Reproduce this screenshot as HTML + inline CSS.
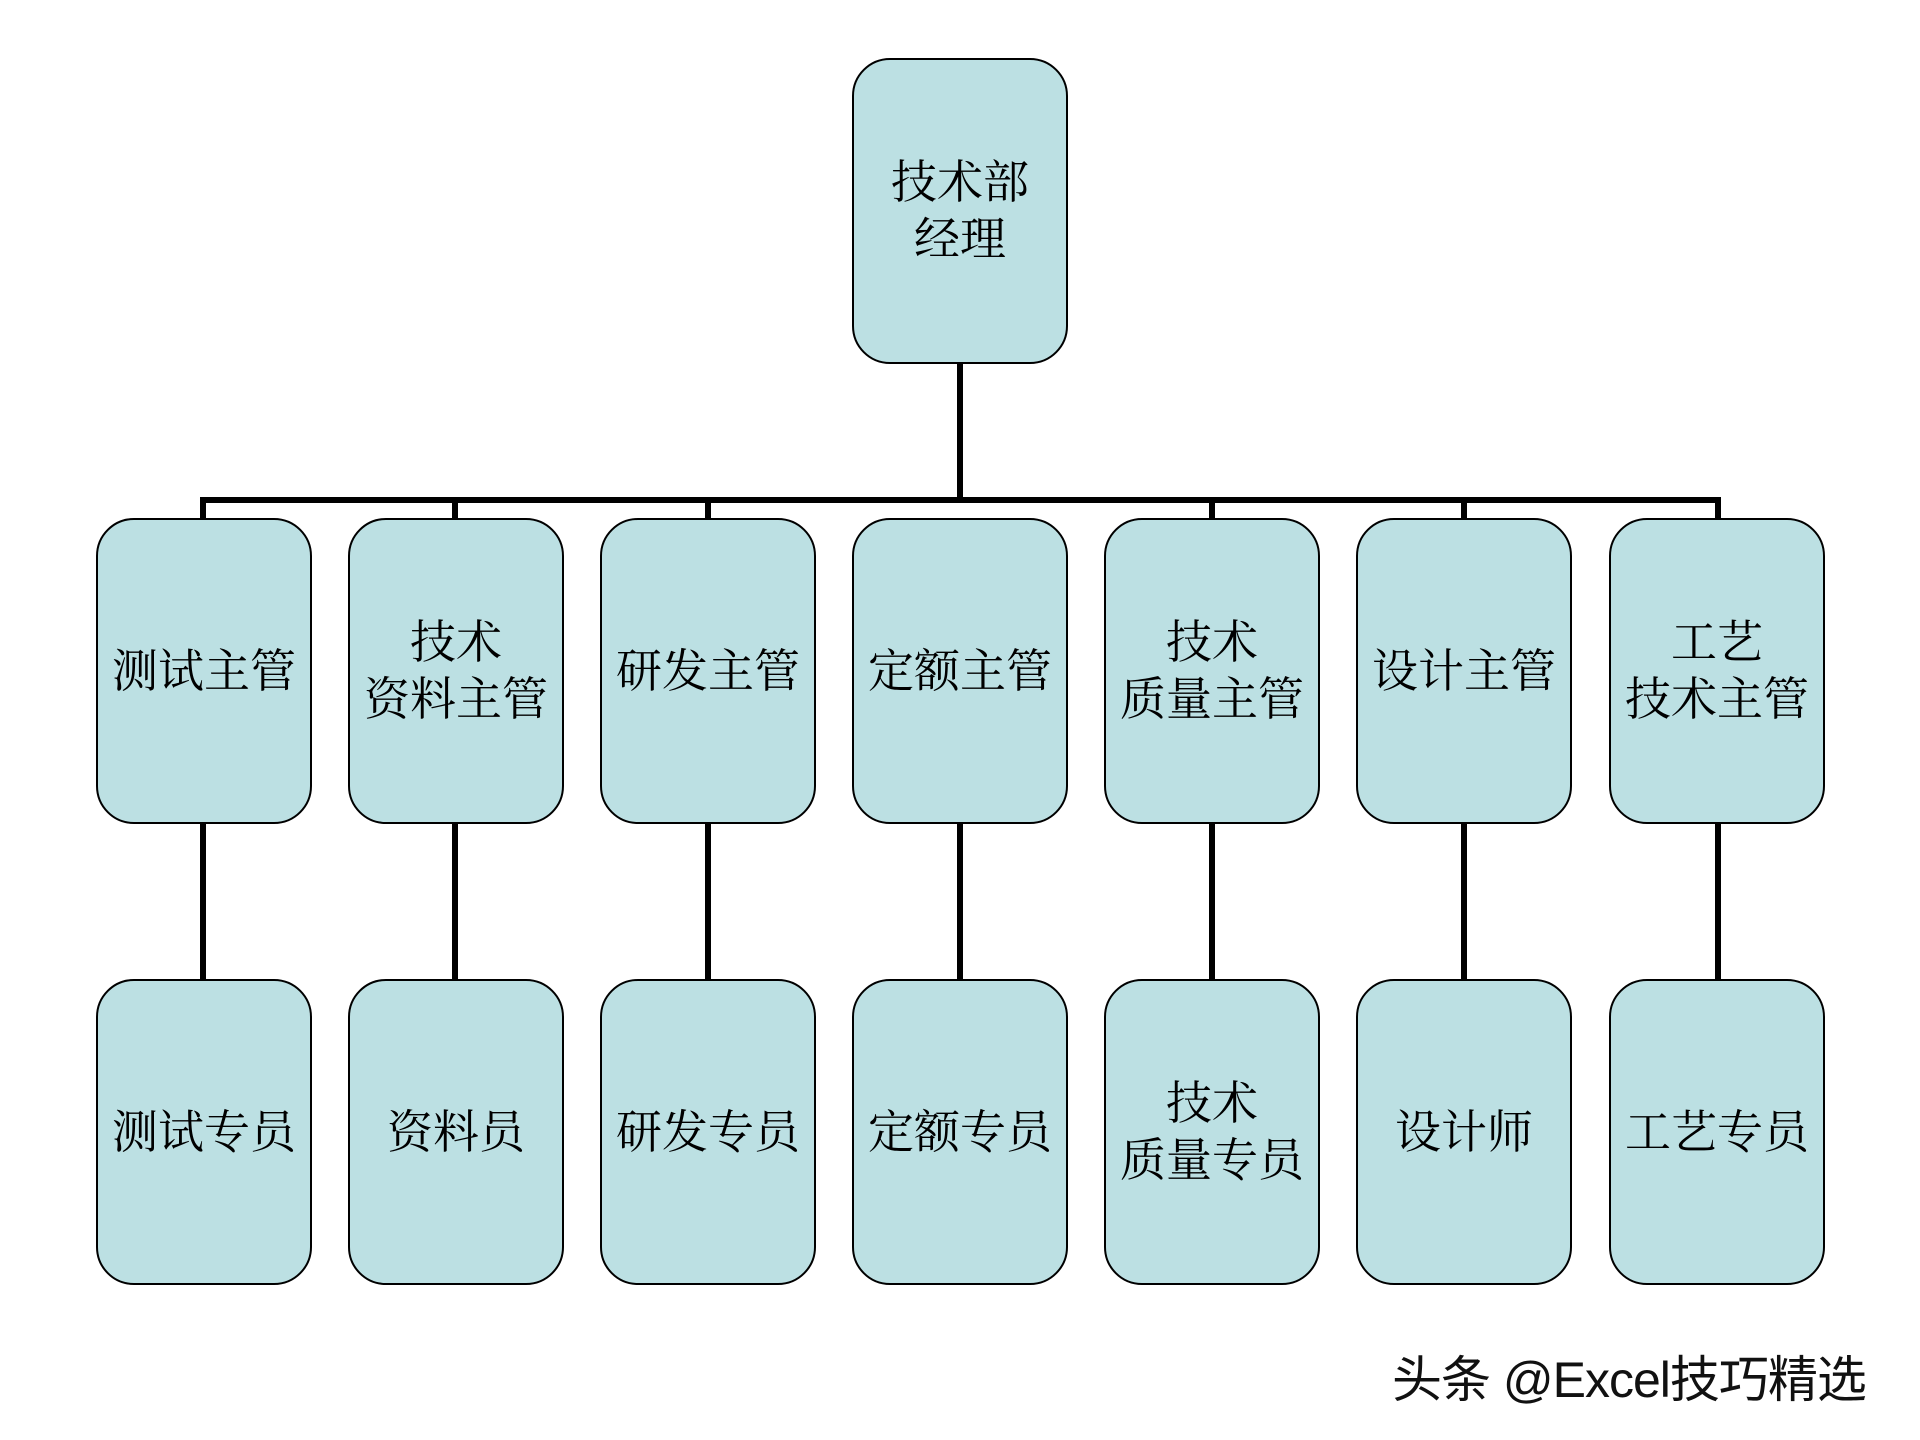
<!DOCTYPE html>
<html><head><meta charset="utf-8"><style>
body{margin:0;background:#fff;width:1920px;height:1440px;position:relative;overflow:hidden}
.b{position:absolute;width:212px;height:302px;background:#bce0e3;border:2.5px solid #000;border-radius:38px;display:flex;align-items:center;justify-content:center;text-align:center;font-family:"Liberation Serif","Noto Serif CJK SC",serif;font-size:46px;line-height:57px;color:#000}
.l{position:absolute;background:#000}
.w{position:absolute;left:1392px;top:1340px;font-family:"Liberation Sans","Noto Sans CJK SC",sans-serif;font-size:50px;color:#111;white-space:nowrap;letter-spacing:-1px}
</style></head><body>
<div class="l" style="left:957px;top:364px;width:6px;height:139px"></div>
<div class="l" style="left:200px;top:497px;width:1521px;height:6px"></div>
<div class="l" style="left:200px;top:497px;width:6px;height:24px"></div>
<div class="l" style="left:452px;top:497px;width:6px;height:24px"></div>
<div class="l" style="left:705px;top:497px;width:6px;height:24px"></div>
<div class="l" style="left:1209px;top:497px;width:6px;height:24px"></div>
<div class="l" style="left:1461px;top:497px;width:6px;height:24px"></div>
<div class="l" style="left:1715px;top:497px;width:6px;height:24px"></div>
<div class="l" style="left:200px;top:824px;width:6px;height:158px"></div>
<div class="l" style="left:452px;top:824px;width:6px;height:158px"></div>
<div class="l" style="left:705px;top:824px;width:6px;height:158px"></div>
<div class="l" style="left:957px;top:824px;width:6px;height:158px"></div>
<div class="l" style="left:1209px;top:824px;width:6px;height:158px"></div>
<div class="l" style="left:1461px;top:824px;width:6px;height:158px"></div>
<div class="l" style="left:1715px;top:824px;width:6px;height:158px"></div>

<div class="b" style="left:852px;top:58px">技术部<br>经理</div>

<div class="b" style="left:96px;top:518px">测试主管</div>
<div class="b" style="left:348px;top:518px">技术<br>资料主管</div>
<div class="b" style="left:600px;top:518px">研发主管</div>
<div class="b" style="left:852px;top:518px">定额主管</div>
<div class="b" style="left:1104px;top:518px">技术<br>质量主管</div>
<div class="b" style="left:1356px;top:518px">设计主管</div>
<div class="b" style="left:1609px;top:518px">工艺<br>技术主管</div>

<div class="b" style="left:96px;top:979px">测试专员</div>
<div class="b" style="left:348px;top:979px">资料员</div>
<div class="b" style="left:600px;top:979px">研发专员</div>
<div class="b" style="left:852px;top:979px">定额专员</div>
<div class="b" style="left:1104px;top:979px">技术<br>质量专员</div>
<div class="b" style="left:1356px;top:979px">设计师</div>
<div class="b" style="left:1609px;top:979px">工艺专员</div>

<div class="w">头条 @Excel技巧精选</div>
</body></html>
